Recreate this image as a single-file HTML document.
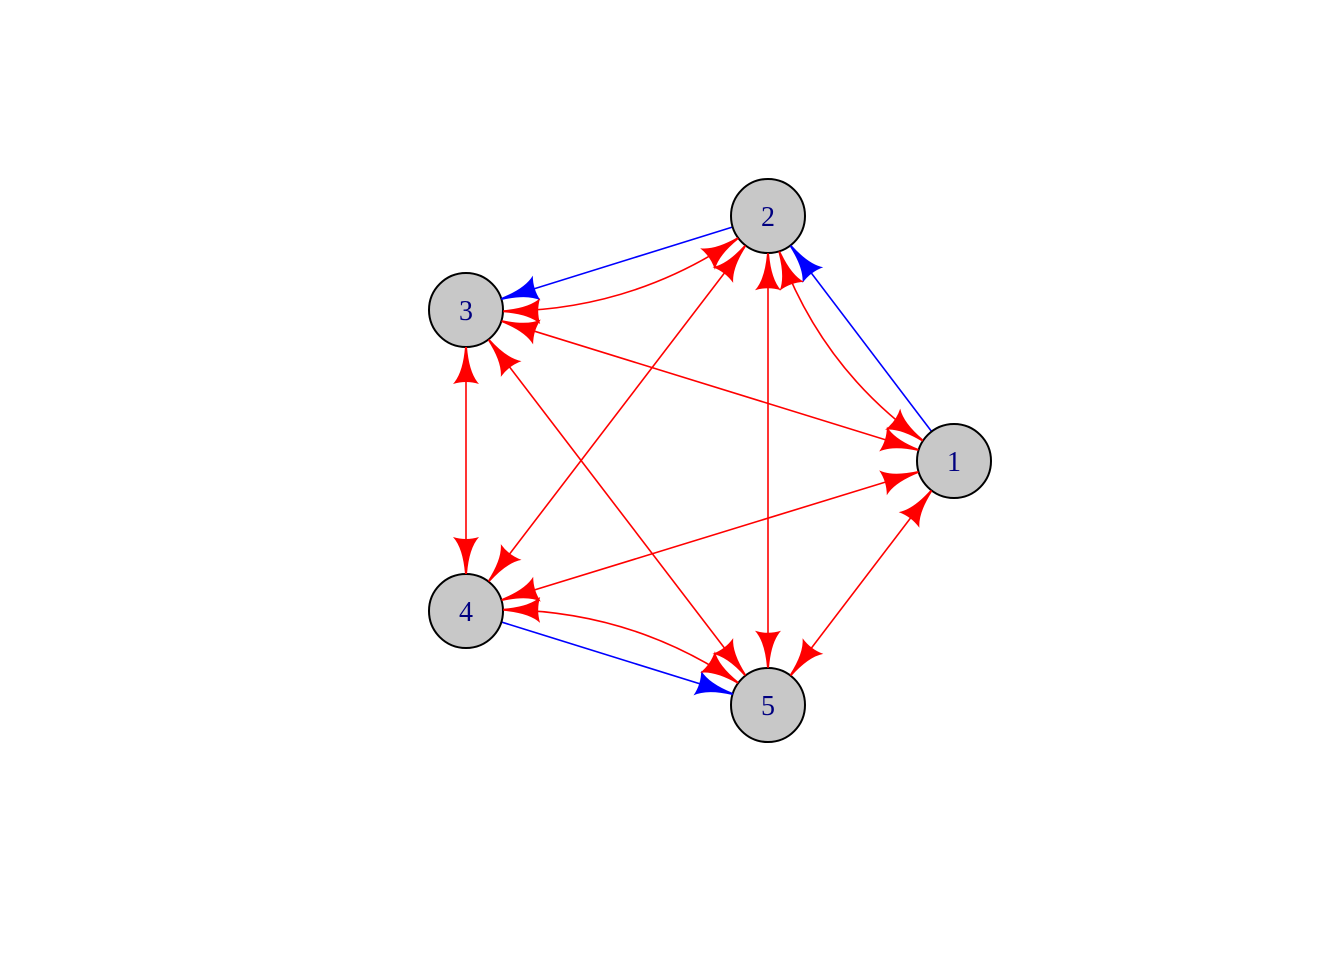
<!DOCTYPE html>
<html><head><meta charset="utf-8"><style>
html,body{margin:0;padding:0;background:#fff;}
svg{display:block}
</style></head><body>
<svg id="s" width="1344" height="960" xmlns="http://www.w3.org/2000/svg">
<g id="edges"></g><g id="nodes"></g><g id="arrows"></g>
<g font-family="Liberation Serif, serif" font-size="28" fill="#000080" text-anchor="middle">
<text x="954" y="471">1</text><text x="768" y="226">2</text><text x="466" y="320">3</text><text x="466" y="621">4</text><text x="768" y="715">5</text>
</g>
</svg>
<script>
var N={1:[954,461],2:[768,216],3:[466,310],4:[466,611],5:[768,705]};
var R=37, cx=673, cy=461, NS="http://www.w3.org/2000/svg";
function el(t,a,p){var e=document.createElementNS(NS,t);for(var k in a)e.setAttribute(k,a[k]);document.getElementById(p).appendChild(e);}
function q(A,C,B,t){var u=1-t;return [u*u*A[0]+2*u*t*C[0]+t*t*B[0],u*u*A[1]+2*u*t*C[1]+t*t*B[1]];}
function P(T,d,n,a,b){return (T[0]-a*d[0]+b*n[0]).toFixed(1)+","+(T[1]-a*d[1]+b*n[1]).toFixed(1);}
function arrow(T,d,col){var n=[-d[1],d[0]];
var s="M"+P(T,d,n,0,1)+" Q"+P(T,d,n,26,3)+" "+P(T,d,n,37,13)+" Q"+P(T,d,n,33,0)+" "+P(T,d,n,37,-13)+" Q"+P(T,d,n,26,-3)+" "+P(T,d,n,0,-1)+"Z";
el("path",{d:s,fill:col},"arrows");}
function endAt(A,C,B,fromB){
var Pp=fromB?B:A,best=fromB?1:0;
for(var i=0;i<=1000;i++){var t=fromB?1-i/1000:i/1000;var p=q(A,C,B,t);if(Math.hypot(p[0]-Pp[0],p[1]-Pp[1])>=R){best=t;break;}}
var p=q(A,C,B,best),p2=q(A,C,B,fromB?best+0.001:best-0.001);var dx=p2[0]-p[0],dy=p2[1]-p[1],l=Math.hypot(dx,dy);
return [p,[dx/l,dy/l]];}
function edge(a,b,col,curve,arrA,arrB){var A=N[a],B=N[b],C;
var mx=(A[0]+B[0])/2,my=(A[1]+B[1])/2;
if(curve){var dx=B[0]-A[0],dy=B[1]-A[1],l=Math.hypot(dx,dy),nx=-dy/l,ny=dx/l;
if((cx-mx)*nx+(cy-my)*ny<0){nx=-nx;ny=-ny;}C=[mx+nx*62,my+ny*62];}else C=[mx,my];
el("path",{d:"M"+A+" Q"+C+" "+B,fill:"none",stroke:col,"stroke-width":1.6},"edges");
if(arrB){var r=endAt(A,C,B,true);arrow(r[0],r[1],col);}
if(arrA){var r=endAt(A,C,B,false);arrow(r[0],r[1],col);}}
var red="#ff0000",blue="#0000ff";
edge(1,2,blue,false,false,true);
edge(2,3,blue,false,false,true);
edge(4,5,blue,false,false,true);
edge(1,2,red,true,true,true);
edge(2,3,red,true,true,true);
edge(4,5,red,true,true,true);
[[3,1],[2,4],[2,5],[3,4],[3,5],[1,4],[1,5]].forEach(function(e){edge(e[0],e[1],red,false,true,true);});
for(var k in N)el("circle",{cx:N[k][0],cy:N[k][1],r:R,fill:"#c8c8c8",stroke:"#000","stroke-width":2},"nodes");
</script>
</body></html>
